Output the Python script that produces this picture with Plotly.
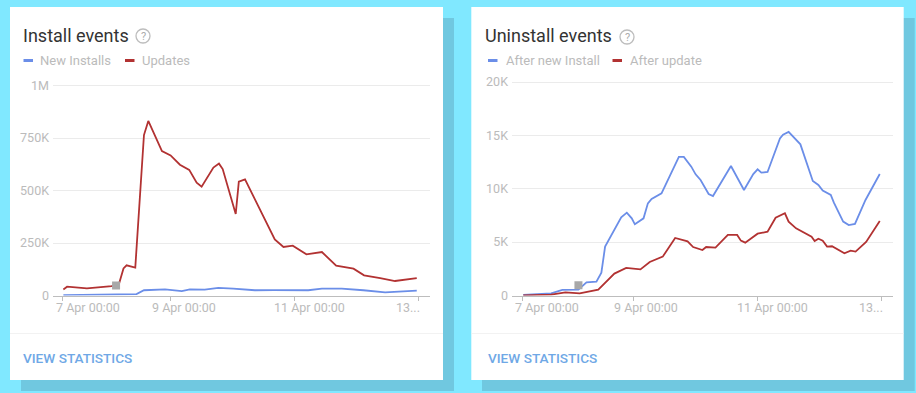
import plotly.graph_objects as go

W, H = 916, 393

# ---------- data (x = day of April as positioned on the chart's axis) ----------
updates_x = [7.28,7.34,7.66,7.87,8.06,8.18,8.25,8.30,8.44,8.58,8.65,8.87,9.01,9.16,9.31,9.43,9.51,9.70,9.79,9.85,10.06,10.11,10.21,10.69,10.83,10.98,11.20,11.45,11.68,11.96,12.13,12.39,12.63,12.98]
updates_y = [29,42,34,39,45,58,129,144,133,764,831,688,667,623,598,537,518,609,628,602,388,542,553,267,231,237,196,207,142,128,96,83,69,83]
new_x = [7.28,8.46,8.58,8.92,9.19,9.32,9.56,9.78,10.02,10.37,10.67,11.23,11.45,11.77,12.12,12.47,12.98]
new_y = [2,7,25,29,21,29,28,36,33,25,26,25,33,33,25,15,23]

after_new_x = [7.23,7.68,7.86,8.12,8.25,8.41,8.49,8.55,8.81,8.90,8.98,9.03,9.17,9.24,9.30,9.46,9.74,9.82,9.94,10.01,10.09,10.22,10.29,10.58,10.79,10.94,11.01,11.07,11.17,11.37,11.42,11.51,11.70,11.90,11.99,12.06,12.19,12.24,12.39,12.48,12.58,12.75,12.98]
after_new_y = [0.05,0.2,0.52,0.55,1.23,1.3,2.14,4.58,7.32,7.76,7.23,6.67,7.23,8.63,9.04,9.57,12.98,12.98,12.07,11.35,10.82,9.51,9.32,12.13,9.88,11.38,11.82,11.51,11.57,14.72,15.07,15.32,14.16,10.73,10.35,9.82,9.42,8.7,6.92,6.6,6.7,8.95,11.38]
after_upd_x = [7.23,7.68,7.91,8.14,8.44,8.70,8.89,9.12,9.27,9.48,9.68,9.88,9.97,10.12,10.18,10.33,10.53,10.68,10.74,10.81,11.01,11.17,11.30,11.45,11.51,11.63,11.88,11.93,11.99,12.06,12.13,12.21,12.41,12.51,12.59,12.76,12.98]
after_upd_y = [0.02,0.08,0.3,0.2,0.55,2.05,2.58,2.45,3.14,3.64,5.39,5.08,4.54,4.26,4.54,4.48,5.67,5.67,5.14,4.95,5.79,5.98,7.29,7.7,6.92,6.29,5.51,5.11,5.32,5.14,4.58,4.61,3.95,4.2,4.11,5.01,6.98]

cursor_left = (8.13, 48)
cursor_right = (8.12, 0.95)

left_yticks = [0, 250, 500, 750, 1000]
left_ylabels = ["0", "250K", "500K", "750K", "1M"]
right_yticks = [0, 5, 10, 15, 20]
right_ylabels = ["0", "5K", "10K", "15K", "20K"]
xticks_left = [7.27, 9, 11, 13]
xticks_right = [7.22, 9, 11, 13]
xlabels = ["7 Apr 00:00", "9 Apr 00:00", "11 Apr 00:00", "13..."]

BLUE, RED = "#6B8EE8", "#B23232"
GREY_TXT, GRID, AXIS = "#BBBBBB", "#EBEBEB", "#BDBDBD"
LINK = "#6FA8E6"
FONT = "Roboto"

fx = lambda p: p / W
fy = lambda p: 1 - p / H

fig = go.Figure()

def line(x, y, color, name, xa, ya):
    fig.add_trace(go.Scatter(x=x, y=y, mode="lines", name=name, xaxis=xa, yaxis=ya,
                             line=dict(color=color, width=1.8), showlegend=False))

line(new_x, new_y, BLUE, "New Installs", "x", "y")
line(updates_x, updates_y, RED, "Updates", "x", "y")
line(after_new_x, after_new_y, BLUE, "After new Install", "x2", "y2")
line(after_upd_x, after_upd_y, RED, "After update", "x2", "y2")
for (cx, cy), xa, ya in [(cursor_left, "x", "y"), (cursor_right, "x2", "y2")]:
    fig.add_trace(go.Scatter(x=[cx], y=[cy], mode="markers", xaxis=xa, yaxis=ya, showlegend=False,
                             marker=dict(symbol="square", size=8, color="#A8A8A8")))

shapes, annos = [], []

def rect(x0, y0, x1, y1, color):
    shapes.append(dict(type="rect", xref="paper", yref="paper", x0=fx(x0), x1=fx(x1), y0=fy(y1), y1=fy(y0),
                       fillcolor=color, line_width=0, layer="below"))

def text(s, x, y, size, color, anchor="left", weight=None):
    annos.append(dict(text=s, x=fx(x), y=fy(y), xref="paper", yref="paper", showarrow=False,
                      xanchor=anchor, yanchor="middle", borderpad=0, borderwidth=0,
                      font=dict(family=FONT, size=size, color=color, **({"weight": weight} if weight else {}))))

def card(x0, x1, sx0, sx1):
    rect(sx0, 18, sx1, 391, "#70C8E0")
    rect(x0, 7, x1, 380, "#FFFFFF")
    rect(x0, 333, x1, 333.8, "#EEEEEE")

card(10, 443, 21, 454)
card(471.3, 903.7, 482, 914.7)

def swatch(x0, x1, y, color):
    shapes.append(dict(type="line", xref="paper", yref="paper", x0=fx(x0), x1=fx(x1), y0=fy(y), y1=fy(y),
                       line=dict(color=color, width=3)))

def help_icon(cx, cy):
    shapes.append(dict(type="circle", xref="paper", yref="paper", x0=fx(cx-7), x1=fx(cx+7), y0=fy(cy+7), y1=fy(cy-7),
                       line=dict(color="#BDBDBD", width=1.3)))
    text("?", cx, cy, 11, "#ABABAB", "center")

text("Install events", 22.5, 35.5, 18, "#333333")
text("Uninstall events", 485, 35.5, 18, "#333333")
help_icon(143, 36)
help_icon(627, 37)

swatch(23.5, 33, 60.5, BLUE); text("New Installs", 40, 60.5, 13, GREY_TXT)
swatch(125, 134.5, 60.5, RED); text("Updates", 141.5, 60.5, 13, GREY_TXT)
swatch(488, 497.5, 60.5, BLUE); text("After new Install", 505.5, 60.5, 13, GREY_TXT)
swatch(612.5, 622, 60.5, RED); text("After update", 630, 60.5, 13, GREY_TXT)

text("VIEW STATISTICS", 23, 358, 13.6, LINK, weight=500)
text("VIEW STATISTICS", 488, 358, 13.6, LINK, weight=500)

# x tick labels sit offset from their ticks in the reference
for lab, c in zip(xlabels, [87.5, 183.5, 309, 408]):
    text(lab, c, 307.5, 12.5, GREY_TXT, "center")
for lab, c in zip(xlabels, [546.5, 646, 772, 871]):
    text(lab, c, 307.5, 12.5, GREY_TXT, "center")

def xaxis(x0, x1, ticks, anchor):
    lo = 9 + (x0 - (170 if anchor == "y" else 633)) / 62
    hi = 9 + (x1 - (170 if anchor == "y" else 633)) / 62
    return dict(domain=[fx(x0), fx(x1)], range=[lo, hi], anchor=anchor, showgrid=False, zeroline=False,
                showline=True, linecolor=AXIS, linewidth=1, tickmode="array", tickvals=ticks, automargin=False,
                ticks="outside", ticklen=4, tickcolor=AXIS, tickwidth=1, showticklabels=False)

def yaxis(ytop, ticks, labels, top, anchor):
    # range extends a hair past the top tick so its gridline is still drawn
    scale = top / (295.5 - ytop)
    return dict(domain=[fy(295.5), fy(ytop - 2)], range=[0, top + 2 * scale], anchor=anchor, showgrid=True,
                gridcolor=GRID, gridwidth=1, zeroline=False, showline=False, tickmode="array", tickvals=ticks,
                ticktext=labels, automargin=False, ticks="",
                tickfont=dict(family=FONT, size=12.5, color=GREY_TXT), ticklabelstandoff=3)

fig.update_layout(
    width=W, height=H, margin=dict(l=0, r=0, t=0, b=0), autosize=False,
    paper_bgcolor="#80E8FF", plot_bgcolor="rgba(0,0,0,0)", showlegend=False,
    xaxis=xaxis(53, 430, xticks_left, "y"),
    yaxis=yaxis(85.5, left_yticks, left_ylabels, 1000, "x"),
    xaxis2=xaxis(512, 893, xticks_right, "y2"),
    yaxis2=yaxis(82, right_yticks, right_ylabels, 20, "x2"),
    shapes=shapes, annotations=annos,
)

fig.write_html("out.html", config=dict(displayModeBar=False),
               post_script="document.body.style.margin='0';document.documentElement.style.overflow='hidden';")
